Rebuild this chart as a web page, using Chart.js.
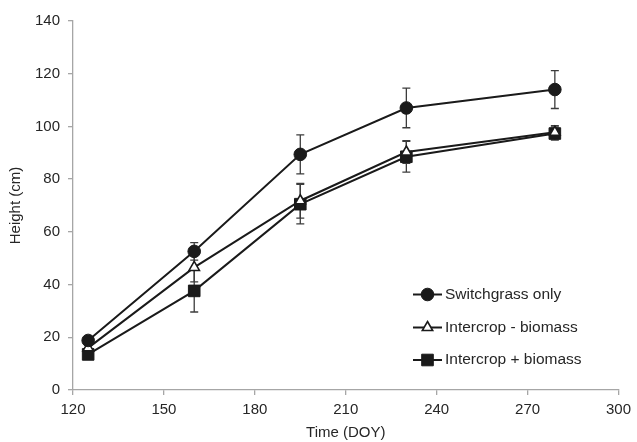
<!DOCTYPE html>
<html>
<head>
<meta charset="utf-8">
<title>Height over time</title>
<script src="https://cdn.jsdelivr.net/npm/chart.js@4.4.1/dist/chart.umd.min.js"></script>
<style>
html, body { margin: 0; padding: 0; background: #fff; }
#wrap { width: 637px; height: 442px; }
</style>
</head>
<body>
<div id="wrap"><canvas id="heightChart" width="637" height="442"></canvas></div>
<script>
// values
var days = [125, 160, 195, 230, 279];
var seriesNames = ["Switchgrass only", "Intercrop - biomass", "Intercrop + biomass"];
var switchgrassOnly = [18.8, 52.6, 89.4, 107.0, 114.0];
var intercropMinus = [16.0, 46.5, 71.8, 90.3, 97.8];
var intercropPlus = [13.5, 37.6, 70.5, 88.5, 97.3];
var errSwitchgrass = [1.5, 3.3, 7.4, 7.5, 7.2];
var errMinus = [1.5, 5.5, 6.6, 4.3, 2.5];
var errPlus = [1.5, 8.0, 7.5, 5.8, 2.5];
var xTicks = [120, 150, 180, 210, 240, 270, 300];
var yTicks = [0, 20, 40, 60, 80, 100, 120, 140];

var FONT = "'Liberation Sans', Arial, sans-serif";
var AXIS_GREY = "#a6a6a6";
var TEXT = "#262626";

function toPoints(vals) {
  return days.map(function (d, i) { return { x: d, y: vals[i] }; });
}

// error bars, drawn under the markers
var errorBars = {
  id: "errorBars",
  beforeDatasetsDraw: function (chart) {
    var ctx = chart.ctx, xs = chart.scales.x, ys = chart.scales.y;
    ctx.save();
    ctx.strokeStyle = "#3c3c3c";
    ctx.lineWidth = 1.3;
    chart.data.datasets.forEach(function (ds) {
      ds.data.forEach(function (p, i) {
        var e = ds.errors[i];
        var px = xs.getPixelForValue(p.x);
        var top = ys.getPixelForValue(p.y + e);
        var bot = ys.getPixelForValue(p.y - e);
        ctx.beginPath();
        ctx.moveTo(px, top); ctx.lineTo(px, bot);
        ctx.moveTo(px - 4, top); ctx.lineTo(px + 4, top);
        ctx.moveTo(px - 4, bot); ctx.lineTo(px + 4, bot);
        ctx.stroke();
      });
    });
    ctx.restore();
  }
};

// legend box inside the plot, line with marker in the middle
var insideLegend = {
  id: "insideLegend",
  afterDraw: function (chart) {
    var ctx = chart.ctx;
    var x0 = 413, x1 = 442, tx = 445;
    var rows = [294.5, 327.5, 360];
    ctx.save();
    chart.data.datasets.forEach(function (ds, i) {
      var y = rows[i];
      ctx.strokeStyle = "#1a1a1a";
      ctx.lineWidth = 2;
      ctx.beginPath(); ctx.moveTo(x0, y); ctx.lineTo(x1, y); ctx.stroke();
      ctx.fillStyle = ds.pointBackgroundColor;
      ctx.strokeStyle = ds.pointBorderColor;
      ctx.lineWidth = ds.pointBorderWidth;
      Chart.helpers.drawPoint(ctx, {
        pointStyle: ds.pointStyle, radius: ds.pointRadius, rotation: 0, borderWidth: ds.pointBorderWidth
      }, (x0 + x1) / 2, y);
      ctx.fillStyle = TEXT;
      ctx.font = "15.5px " + FONT;
      ctx.textAlign = "left";
      ctx.textBaseline = "middle";
      ctx.fillText(ds.label, tx, y);
    });
    ctx.restore();
  }
};

var ctx = document.getElementById("heightChart").getContext("2d");
var heightChart = new Chart(ctx, {
  type: "line",
  data: {
    datasets: [{
      label: seriesNames[0],
      data: toPoints(switchgrassOnly),
      errors: errSwitchgrass,
      borderColor: "#1a1a1a", borderWidth: 2,
      pointStyle: "circle", pointRadius: 6.3,
      pointBackgroundColor: "#1a1a1a", pointBorderColor: "#1a1a1a", pointBorderWidth: 1
    }, {
      label: seriesNames[1],
      data: toPoints(intercropMinus),
      errors: errMinus,
      borderColor: "#1a1a1a", borderWidth: 2,
      pointStyle: "triangle", pointRadius: 6,
      pointBackgroundColor: "#ffffff", pointBorderColor: "#1a1a1a", pointBorderWidth: 1.6
    }, {
      label: seriesNames[2],
      data: toPoints(intercropPlus),
      errors: errPlus,
      borderColor: "#1a1a1a", borderWidth: 2,
      pointStyle: "rect", pointRadius: 8.2,
      pointBackgroundColor: "#1a1a1a", pointBorderColor: "#1a1a1a", pointBorderWidth: 1
    }]
  },
  options: {
    responsive: false,
    animation: false,
    layout: { padding: { left: 0, right: 18, top: 21, bottom: 0 } },
    elements: { line: { tension: 0 } },
    plugins: { legend: { display: false }, tooltip: { enabled: false } },
    scales: {
      x: {
        type: "linear", min: 120, max: 300,
        afterBuildTicks: function (s) { s.ticks = xTicks.map(function (v) { return { value: v }; }); },
        grid: { display: true, drawOnChartArea: false, drawTicks: true, tickLength: 5, color: AXIS_GREY, lineWidth: 1.3 },
        border: { color: AXIS_GREY, width: 1.3 },
        ticks: { color: TEXT, font: { family: FONT, size: 15 }, padding: 6, maxRotation: 0 },
        title: { display: true, text: "Time (DOY)", color: TEXT, font: { family: FONT, size: 15 }, padding: { top: 0, bottom: 0 } },
        afterFit: function (s) { s.height = 52; }
      },
      y: {
        type: "linear", min: 0, max: 140,
        afterBuildTicks: function (s) { s.ticks = yTicks.map(function (v) { return { value: v }; }); },
        grid: { display: true, drawOnChartArea: false, drawTicks: true, tickLength: 5, color: AXIS_GREY, lineWidth: 1.3 },
        border: { color: AXIS_GREY, width: 1.3 },
        ticks: { color: TEXT, font: { family: FONT, size: 15 }, padding: 8 },
        title: { display: true, text: "Height (cm)", color: TEXT, font: { family: FONT, size: 15 }, padding: { top: 7, bottom: 0 } },
        afterFit: function (s) { s.width = 73; }
      }
    }
  },
  plugins: [errorBars, insideLegend]
});
</script>
</body>
</html>
